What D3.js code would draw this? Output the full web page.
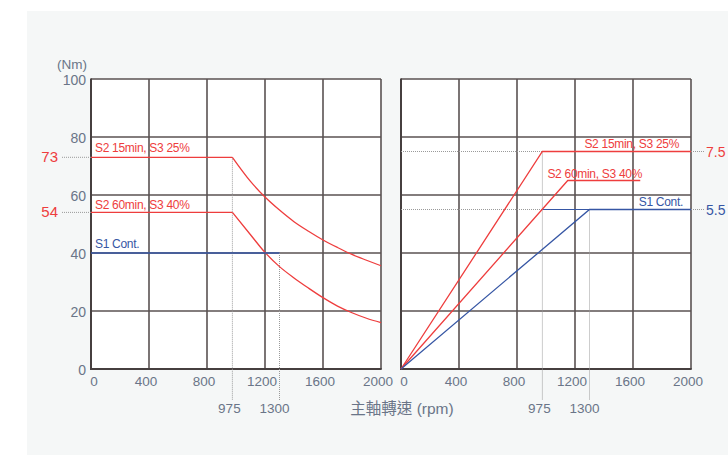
<!DOCTYPE html>
<html><head><meta charset="utf-8">
<script src="https://cdn.jsdelivr.net/npm/d3@7"></script>
<style>
html,body{margin:0;padding:0;background:#fff;}
svg{display:block;}
text{font-family:"Liberation Sans",Arial,"Noto Sans CJK TC",sans-serif;}
</style></head>
<body>
<script>
// ---- data ----
const rpmTicks = [0, 400, 800, 1200, 1600, 2000];
const torqueTicks = [0, 20, 40, 60, 80, 100];
const powerGrid = [0, 2, 4, 6, 8, 10];
const markRpm = [975, 1300];

// torque (Nm) vs rpm
const torqueRpm = [975, 1100, 1200, 1300, 1400, 1500, 1600, 1700, 1800, 1900, 2000];
const torqueS2_15 = [73, 64.7, 59.3, 54.8, 50.8, 47.5, 44.5, 41.9, 39.5, 37.5, 35.6];
const torqueS2_60 = [54, 46.3, 40.2, 35.3, 31.4, 27.9, 24.6, 21.7, 19.4, 17.5, 16.0];
const torqueS1Rpm = [0, 1300];
const torqueS1 = [40, 40];
const torqueMarks = [73, 54];

// power (kW) vs rpm
const powerS2_15Rpm = [0, 975, 2000];
const powerS2_15 = [0, 7.5, 7.5];
const powerS2_60Rpm = [0, 1150, 1650];
const powerS2_60 = [0, 6.5, 6.5];
const powerS1Rpm = [0, 1300, 2000];
const powerS1 = [0, 5.5, 5.5];
const powerMarks = [7.5, 5.5];

const labels = {s15: "S2 15min, S3 25%", s60: "S2 60min, S3 40%", s1: "S1 Cont."};

// ---- style ----
const RED = "#ee3d3d", BLUE = "#3656a4", GRID = "#5a5252", AXIS = "#463f3f", TICK = "#6a7588", DOT = "#9a9a9a";

const W = 728, H = 455;
const svg = d3.select("body").append("svg").attr("width", W).attr("height", H);
svg.append("rect").attr("x", 27).attr("y", 11).attr("width", W - 27).attr("height", H - 11).attr("fill", "#f5f7f7");

const yTop = 79, yBot = 369;
const xL = d3.scaleLinear().domain([0, 2000]).range([91, 381]);
const xR = d3.scaleLinear().domain([0, 2000]).range([401, 691]);
const yT = d3.scaleLinear().domain([0, 100]).range([yBot, yTop]);
const yP = d3.scaleLinear().domain([0, 10]).range([yBot, yTop]);

function panel(x, y, yGrid) {
  const g = svg.append("g");
  g.append("rect").attr("x", x.range()[0]).attr("y", yTop).attr("width", x.range()[1] - x.range()[0]).attr("height", yBot - yTop).attr("fill", "#fff");
  rpmTicks.forEach(t => {
    if (t === 0) return;
    g.append("line").attr("x1", x(t)).attr("x2", x(t)).attr("y1", yTop).attr("y2", yBot).attr("stroke", GRID).attr("stroke-width", 1.6);
  });
  yGrid.forEach(t => {
    if (t === 0) return;
    g.append("line").attr("x1", x.range()[0]).attr("x2", x.range()[1]).attr("y1", y(t)).attr("y2", y(t)).attr("stroke", GRID).attr("stroke-width", 1.6);
  });
  // axes
  g.append("line").attr("x1", x.range()[0]).attr("x2", x.range()[0]).attr("y1", yTop - 0.5).attr("y2", yBot + 1).attr("stroke", AXIS).attr("stroke-width", 2);
  g.append("line").attr("x1", x.range()[0]).attr("x2", x.range()[1] + 0.7).attr("y1", yBot).attr("y2", yBot).attr("stroke", AXIS).attr("stroke-width", 2);
  // x tick labels
  rpmTicks.forEach(t => {
    g.append("text").attr("x", x(t) + (t === 0 ? 3 : -3)).attr("y", 386).attr("text-anchor", "middle")
      .attr("font-size", 13.5).attr("fill", TICK).text(t);
  });
  return g;
}

function dotted(x1, y1, x2, y2) {
  svg.append("line").attr("x1", x1).attr("y1", y1).attr("x2", x2).attr("y2", y2)
    .attr("stroke", DOT).attr("stroke-width", 1).attr("stroke-dasharray", "1,1");
}

// ---------- left panel (torque) ----------
panel(xL, yT, torqueTicks);
torqueTicks.forEach(t => {
  svg.append("text").attr("x", 86).attr("y", yT(t) + 6).attr("text-anchor", "end")
    .attr("font-size", 14).attr("fill", TICK).text(t);
});
svg.append("text").attr("x", 87).attr("y", 69).attr("text-anchor", "end").attr("font-size", 13.5).attr("fill", TICK).text("(Nm)");

// guides
torqueMarks.forEach(v => {
  dotted(62, yT(v), xL(0), yT(v));
  svg.append("text").attr("x", 58).attr("y", yT(v) + 5).attr("text-anchor", "end").attr("font-size", 15).attr("fill", RED).text(v);
});
dotted(xL(markRpm[0]), yT(torqueMarks[0]), xL(markRpm[0]), 400);
dotted(xL(markRpm[1]), yT(torqueS1[1]), xL(markRpm[1]), 400);

const lineLin = d3.line().x(d => d[0]).y(d => d[1]);
const lineCurve = d3.line().x(d => d[0]).y(d => d[1]).curve(d3.curveMonotoneX);

function torqueCurve(vals, color) {
  svg.append("path").attr("d", lineLin([[xL(0), yT(vals[0])], [xL(torqueRpm[0]), yT(vals[0])]]))
    .attr("fill", "none").attr("stroke", color).attr("stroke-width", 1.3);
  svg.append("path").attr("d", lineCurve(torqueRpm.map((r, i) => [xL(r), yT(vals[i])])))
    .attr("fill", "none").attr("stroke", color).attr("stroke-width", 1.3);
}
torqueCurve(torqueS2_15, RED);
torqueCurve(torqueS2_60, RED);
svg.append("path").attr("d", lineLin(torqueS1Rpm.map((r, i) => [xL(r), yT(torqueS1[i])])))
  .attr("fill", "none").attr("stroke", BLUE).attr("stroke-width", 1.6);

function lbl(x, y, txt, color, anchor) {
  svg.append("text").attr("x", x).attr("y", y).attr("text-anchor", anchor || "start")
    .attr("font-size", 12).attr("letter-spacing", -0.3).attr("fill", color).text(txt);
}
lbl(95, 152, labels.s15, RED);
lbl(95, 209, labels.s60, RED);
lbl(95, 248, labels.s1, BLUE);

// ---------- right panel (power) ----------
panel(xR, yP, powerGrid);
// guides
dotted(xR(0), yP(powerMarks[0]), xR(powerS2_15Rpm[1]), yP(powerMarks[0]));
dotted(xR(0), yP(powerMarks[1]), xR(markRpm[0]), yP(powerMarks[1]));
svg.append("line").attr("x1", xR(markRpm[0])).attr("x2", xR(markRpm[1])).attr("y1", yP(powerMarks[1])).attr("y2", yP(powerMarks[1]))
  .attr("stroke", BLUE).attr("stroke-width", 1.2);
dotted(xR(markRpm[0]), yP(powerMarks[0]), xR(markRpm[0]), 400);
dotted(xR(markRpm[1]), yP(powerMarks[1]), xR(markRpm[1]), 400);
dotted(xR(2000), yP(powerMarks[0]), 704, yP(powerMarks[0]));
dotted(xR(2000), yP(powerMarks[1]), 704, yP(powerMarks[1]));
svg.append("text").attr("x", 706).attr("y", yP(powerMarks[0]) + 5).attr("font-size", 14).attr("fill", RED).text(powerMarks[0]);
svg.append("text").attr("x", 706).attr("y", yP(powerMarks[1]) + 5).attr("font-size", 14).attr("fill", BLUE).text(powerMarks[1]);

function powerLine(rpms, vals, color) {
  svg.append("path").attr("d", lineLin(rpms.map((r, i) => [xR(r), yP(vals[i])])))
    .attr("fill", "none").attr("stroke", color).attr("stroke-width", 1.3);
}
powerLine(powerS2_15Rpm, powerS2_15, RED);
powerLine(powerS2_60Rpm, powerS2_60, RED);
powerLine(powerS1Rpm, powerS1, BLUE);

lbl(679, 148, labels.s15, RED, "end");
lbl(642, 178, labels.s60, RED, "end");
lbl(683, 206, labels.s1, BLUE, "end");

// ---------- bottom labels ----------
svg.append("text").attr("x", xL(markRpm[0]) - 3).attr("y", 413).attr("text-anchor", "middle").attr("font-size", 13.5).attr("fill", TICK).text(markRpm[0]);
svg.append("text").attr("x", xL(markRpm[1]) - 5).attr("y", 413).attr("text-anchor", "middle").attr("font-size", 13.5).attr("fill", TICK).text(markRpm[1]);
svg.append("text").attr("x", xR(markRpm[0]) - 3).attr("y", 413).attr("text-anchor", "middle").attr("font-size", 13.5).attr("fill", TICK).text(markRpm[0]);
svg.append("text").attr("x", xR(markRpm[1]) - 5).attr("y", 413).attr("text-anchor", "middle").attr("font-size", 13.5).attr("fill", TICK).text(markRpm[1]);
svg.append("text").attr("x", 402).attr("y", 414).attr("text-anchor", "middle").attr("font-size", 15.5).attr("fill", TICK).text("主軸轉速 (rpm)");
</script>
</body></html>
